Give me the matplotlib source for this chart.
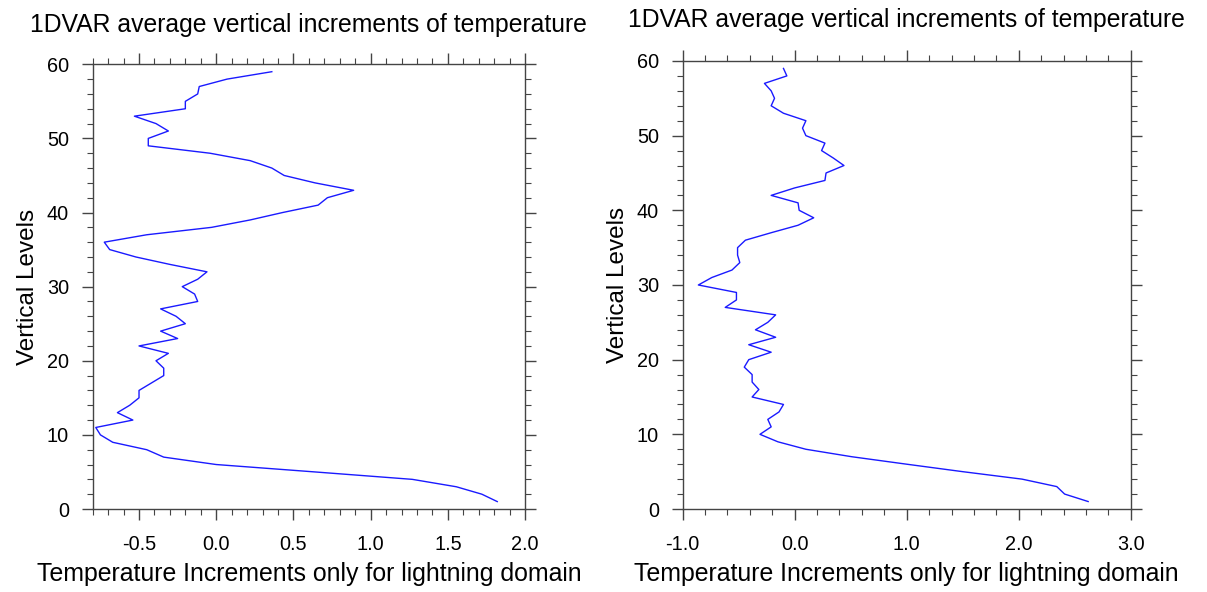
# Perfis médios de incremento de temperatura do 1DVAR (dois experimentos).

import matplotlib
matplotlib.use("Agg")
import matplotlib.pyplot as plt
from matplotlib.ticker import MultipleLocator, FormatStrFormatter

plt.rcParams["font.family"] = ["Liberation Sans", "DejaVu Sans"]
plt.rcParams["axes.unicode_minus"] = False

# Níveis verticais (1..59)
NIVEIS = [1, 2, 3, 4, 5, 6, 7, 8, 9, 10, 11, 12, 13, 14, 15, 16, 17, 18, 19, 20,
          21, 22, 23, 24, 25, 26, 27, 28, 29, 30, 31, 32, 33, 34, 35, 36, 37, 38, 39, 40,
          41, 42, 43, 44, 45, 46, 47, 48, 49, 50, 51, 52, 53, 54, 55, 56, 57, 58, 59]

# Incrementos médios - painel da esquerda
INCR_ESQ = [1.82, 1.72, 1.555, 1.27, 0.64, 0.0, -0.34, -0.45, -0.67, -0.75,
            -0.78, -0.54, -0.64, -0.56, -0.50, -0.50, -0.42, -0.34, -0.34, -0.39,
            -0.31, -0.50, -0.25, -0.36, -0.20, -0.26, -0.36, -0.12, -0.14, -0.22,
            -0.12, -0.06, -0.30, -0.52, -0.69, -0.725, -0.45, -0.03, 0.22, 0.43,
            0.66, 0.72, 0.89, 0.64, 0.44, 0.36, 0.22, -0.04, -0.44, -0.44,
            -0.31, -0.39, -0.53, -0.20, -0.20, -0.12, -0.11, 0.07, 0.36]

# Incrementos médios - painel da direita
INCR_DIR = [2.62, 2.41, 2.34, 2.03, 1.50, 1.0, 0.51, 0.10, -0.15, -0.31,
            -0.21, -0.24, -0.14, -0.10, -0.38, -0.32, -0.38, -0.38, -0.45, -0.41,
            -0.21, -0.41, -0.17, -0.35, -0.24, -0.17, -0.62, -0.52, -0.52, -0.86,
            -0.74, -0.56, -0.49, -0.51, -0.51, -0.44, -0.21, 0.03, 0.17, 0.04,
            0.03, -0.21, 0.0, 0.27, 0.28, 0.44, 0.345, 0.24, 0.27, 0.10,
            0.07, 0.10, -0.10, -0.21, -0.18, -0.21, -0.27, -0.07, -0.10]

TITULO = "1DVAR average vertical increments of temperature"
ROTULO_X = "Temperature Increments only for lightning domain"
ROTULO_Y = "Vertical Levels"


# Monta um painel no estilo NCL (ticks para fora nos quatro lados).
def painel(fig, posicao, x, y, xlim, passo_maior, passo_menor, titulo_y):
    eixo = fig.add_axes(posicao)
    eixo.plot(x, y, color="#1a1aff", linewidth=1.0)
    eixo.set_xlim(*xlim)
    eixo.set_ylim(0, 60)
    eixo.xaxis.set_major_locator(MultipleLocator(passo_maior))
    eixo.xaxis.set_minor_locator(MultipleLocator(passo_menor))
    eixo.xaxis.set_major_formatter(FormatStrFormatter("%.1f"))
    eixo.yaxis.set_major_locator(MultipleLocator(10))
    eixo.yaxis.set_minor_locator(MultipleLocator(2))
    eixo.tick_params(which="both", direction="out", top=True, right=True,
                     color="#444444", labelsize=14.3)
    eixo.tick_params(which="major", length=8, width=1.0)
    eixo.tick_params(which="minor", length=4, width=0.8)
    eixo.tick_params(axis="x", which="major", pad=10.5)
    eixo.tick_params(axis="y", which="major", pad=9)
    for lado in eixo.spines.values():
        lado.set_color("#444444")
        lado.set_linewidth(1.0)
    eixo.set_xlabel(ROTULO_X, fontsize=17.9, labelpad=6)
    eixo.set_ylabel(ROTULO_Y, fontsize=17.5, labelpad=6)
    eixo.text(0.5, titulo_y, TITULO, transform=eixo.transAxes, ha="center",
              va="baseline", fontsize=17.8)
    return eixo


fig = plt.figure(figsize=(12.07, 5.92), dpi=100)
painel(fig, [0.0768, 0.1402, 0.3582, 0.7512], INCR_ESQ, NIVEIS,
       (-0.8, 2.0), 0.5, 0.1, 1.072)
painel(fig, [0.5656, 0.1402, 0.3712, 0.7568], INCR_DIR, NIVEIS,
       (-1.0, 3.0), 1.0, 0.2, 1.075)
fig.savefig("out.png", dpi=100)
plt.close(fig)
